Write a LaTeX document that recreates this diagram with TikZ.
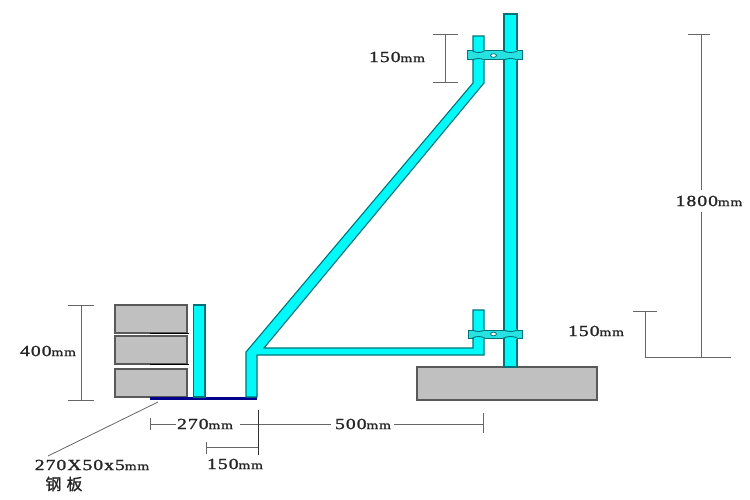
\documentclass[tikz,border=0pt]{standalone}
\usepackage{fontspec}
\setmainfont[FakeStretch=1.26,FakeBold=1.6,LetterSpace=7]{Liberation Serif}
\newfontfamily\cjk[FakeBold=1]{Noto Sans CJK SC}
\definecolor{tubefill}{RGB}{0,250,250}
\definecolor{tubeline}{RGB}{0,115,120}
\definecolor{clampfill}{RGB}{40,225,225}
\definecolor{blockfill}{RGB}{192,192,192}
\definecolor{platecol}{RGB}{0,0,140}
\begin{document}
\begin{tikzpicture}[x=1pt,y=-1pt,
  tube/.style={draw=tubeline,line width=1.1pt,fill=tubefill,line join=miter},
  clampbox/.style={draw=tubeline,line width=1pt,fill=clampfill},
  block/.style={draw=black!65,line width=1.2pt,fill=blockfill},
  dim/.style={draw=black!60,line width=1pt},
  lab/.style={inner sep=0pt,text=black!85,font=\fontsize{15.5pt}{17pt}\selectfont}]
\newcommand{\mmtxt}{\fontsize{12pt}{14pt}\selectfont mm}
\useasboundingbox (0,0) rectangle (750,500);
\fill[white] (0,0) rectangle (750,500);
% bricks and base
\draw[block] (115,305) rectangle (187,333);
\draw[block] (115,336) rectangle (187,364);
\draw[block] (115,369) rectangle (187,397);
\draw[black,line width=1pt] (150,333.5) -- (189,333.5) (150,364.5) -- (189,364.5);
\draw[block] (417,367) rectangle (597,400);
% plate
\fill[platecol] (150,397) rectangle (257,400);
% tubes
\draw[tube] (193.5,305) rectangle (205,397);
\draw[tube] (504,14) rectangle (517,367);
\draw[tube] (473,36) -- (484,36) -- (484,83) -- (264,348) -- (473,348) -- (473,310) -- (484,310) -- (484,355) -- (257,355) -- (257,397) -- (246,397) -- (246,352) -- (473,83) -- cycle;
% clamps
\draw[clampbox] (467.5,51) rectangle (522,60);
\draw[clampbox] (468,330) rectangle (522,338);
\foreach \cx/\cw/\cy in {478.5/5/51,510.5/6/51,478.5/5/330,510.5/6/330}{
  \fill[tubefill] (\cx-\cw,\cy-0.8) rectangle (\cx+\cw,\cy+0.6);
  \draw[tubeline,line width=0.9pt] (\cx-\cw-1,\cy) .. controls (\cx-2,\cy+2) and (\cx+2,\cy+2) .. (\cx+\cw+1,\cy);
}
\foreach \cx/\cw/\cy in {478.5/5/60,510.5/6/60,478.5/5/338,510.5/6/338}{
  \fill[tubefill] (\cx-\cw,\cy-0.6) rectangle (\cx+\cw,\cy+0.8);
  \draw[tubeline,line width=0.9pt] (\cx-\cw-1,\cy) .. controls (\cx-2,\cy-2) and (\cx+2,\cy-2) .. (\cx+\cw+1,\cy);
}
\draw[tubeline,fill=white,line width=0.8pt] (493.5,55.5) ellipse (3 and 1.8);
\draw[tubeline,fill=white,line width=0.8pt] (493.5,334) ellipse (3 and 1.8);
% labels
\node[lab] (t150a) at (397,57) {150\mmtxt};
\node[lab] (t1800) at (709,201) {1800\mmtxt};
\node[lab] (t150b) at (596,331) {150\mmtxt};
\node[lab] (t400) at (48,351) {400\mmtxt};
\node[lab] (t270) at (205,424) {270\mmtxt};
\node[lab] (t500) at (363,424) {500\mmtxt};
\node[lab] (t150c) at (235,464) {150\mmtxt};
\node[lab] (tplate) at (92,465) {270X50x5\mmtxt};
\node[lab] (tsteel) at (64,484) {\cjk\fontsize{16pt}{18pt}\selectfont 钢\hspace{5pt}板};
% dimensions
\draw[dim] (433,35) -- (458,35) (445,35) -- (445,83) (433,83) -- (458,83);
\draw[dim] (688,35) -- (710,35) (701,35) -- (701,190) (701,212) -- (701,357) (645,357) -- (731,357);
\draw[dim] (633,311) -- (657,311) (645,311) -- (645,357);
\draw[dim] (68,305) -- (94,305) (81,305) -- (81,400) (68,400) -- (94,400);
\draw[dim] (150,418) -- (150,430) (150,424) -- (176,424) (240,424) -- (331,424) (394,424) -- (483,424) (483,413) -- (483,433);
\draw[black!80,line width=1pt] (258,410) -- (258,455);
\draw[dim] (206,442) -- (206,454) (206,447.5) -- (258,447.5);
\draw[black!60,line width=0.8pt] (158,402) -- (48,456);
\end{tikzpicture}
\end{document}
